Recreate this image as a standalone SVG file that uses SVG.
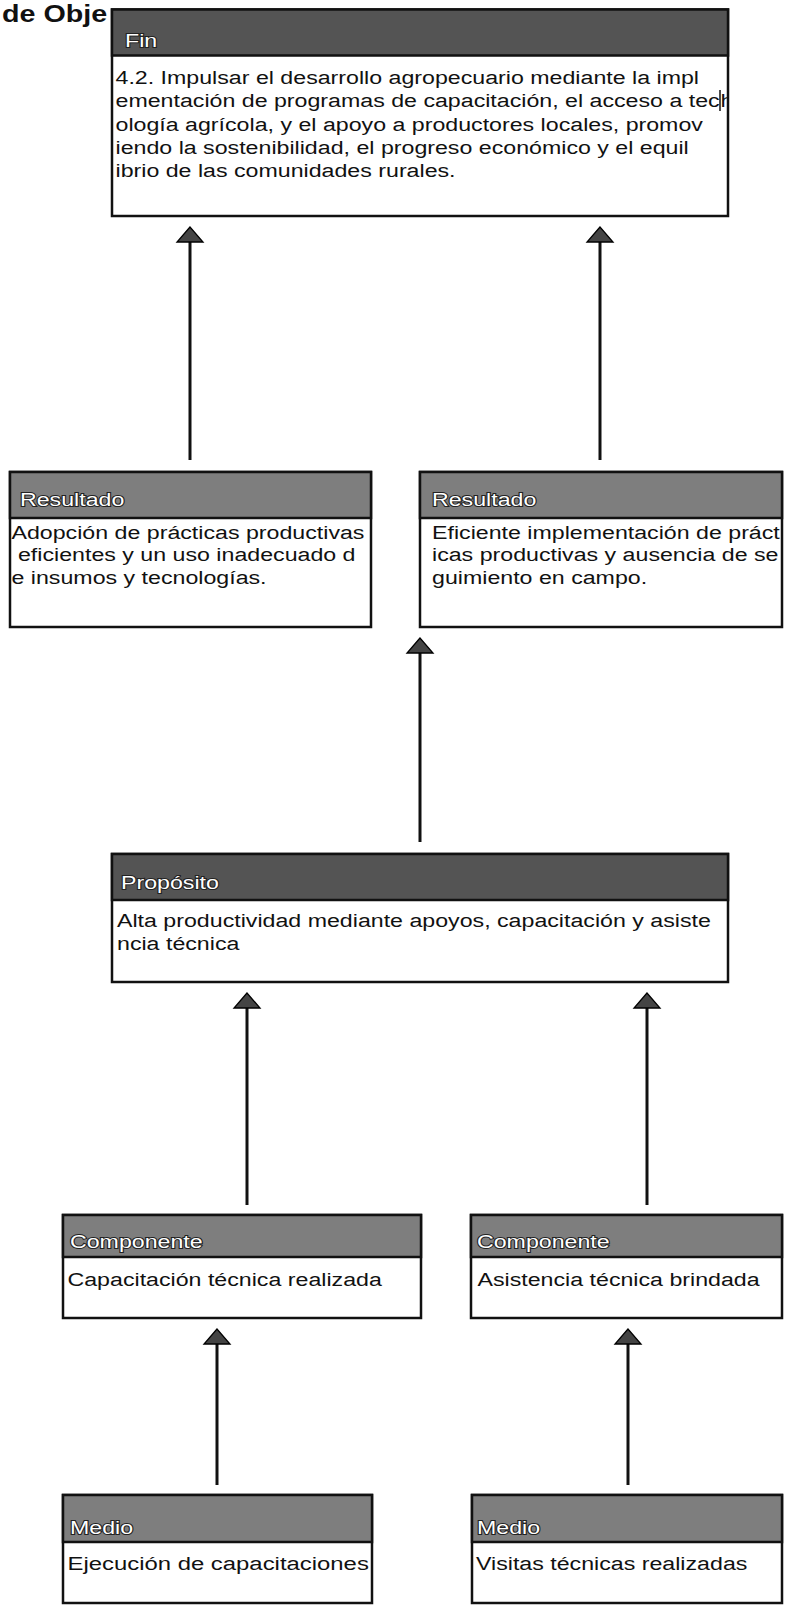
<svg xmlns="http://www.w3.org/2000/svg" width="785" height="1606" viewBox="0 0 785 1606">
<style>
text{font-family:"Liberation Sans",Arial,sans-serif;}
.title{font-size:23.5px;font-weight:bold;fill:#111;}
.box{fill:#fff;stroke:#111;stroke-width:2.5;}
.hd{stroke:#111;stroke-width:2.5;}
.hdk{fill:#545454;}
.hdm{fill:#7e7e7e;}
.lbl{font-size:19px;fill:#fff;stroke:#222;stroke-width:2;paint-order:stroke;}
.txt{font-size:19px;fill:#111;}
.con{fill:none;stroke:#111;stroke-width:3;}
.bar{stroke:#111;stroke-width:1.5;}
</style>
<defs>
<marker id="ah" markerUnits="userSpaceOnUse" markerWidth="16" markerHeight="28" viewBox="0 0 16 28" refX="7" refY="14" orient="auto" overflow="visible">
<path d="M15,14 L0,1 L0,27 Z" fill="#444" stroke="#000" stroke-width="1.3"/>
</marker>
<clipPath id="finclip"><rect x="112" y="56" width="615" height="158"/></clipPath>
</defs>

<text class="title" transform="translate(2,22) scale(1.22,1)">de Obje</text>

<g id="connectors">
<path class="con" d="M190,460 V235" marker-end="url(#ah)"/>
<path class="con" d="M600,460 V235" marker-end="url(#ah)"/>
<path class="con" d="M420,842 V646" marker-end="url(#ah)"/>
<path class="con" d="M247,1205 V1001" marker-end="url(#ah)"/>
<path class="con" d="M647,1205 V1001" marker-end="url(#ah)"/>
<path class="con" d="M217,1485 V1337" marker-end="url(#ah)"/>
<path class="con" d="M628,1485 V1337" marker-end="url(#ah)"/>
</g>

<g id="fin">
<rect class="box" x="112" y="9.5" width="616" height="206.5"/>
<rect class="hd hdk" x="112" y="9.5" width="616" height="46"/>
<text class="lbl" transform="translate(125,47) scale(1.22,1)">Fin</text>
<g clip-path="url(#finclip)">
<text class="txt" transform="translate(115.5,84) scale(1.22,1)">
<tspan x="0" y="0">4.2. Impulsar el desarrollo agropecuario mediante la impl</tspan>
<tspan x="0" y="23.3">ementación de programas de capacitación, el acceso a tec</tspan><tspan x="496" y="23.3">h</tspan>
<tspan x="0" y="46.6">ología agrícola, y el apoyo a productores locales, promov</tspan>
<tspan x="0" y="69.9">iendo la sostenibilidad, el progreso económico y el equil</tspan>
<tspan x="0" y="93.2">ibrio de las comunidades rurales.</tspan>
</text>
</g>
<line class="bar" x1="720" y1="90" x2="720" y2="111"/>
</g>

<g id="resultado1">
<rect class="box" x="10" y="472" width="361" height="155"/>
<rect class="hd hdm" x="10" y="472" width="361" height="46"/>
<text class="lbl" transform="translate(20,506) scale(1.22,1)">Resultado</text>
<text class="txt" transform="translate(11.5,539) scale(1.22,1)">
<tspan x="0" y="0">Adopción de prácticas productivas</tspan>
<tspan x="5.3" y="22.5">eficientes y un uso inadecuado d</tspan>
<tspan x="0" y="45">e insumos y tecnologías.</tspan>
</text>
</g>

<g id="resultado2">
<rect class="box" x="420" y="472" width="362" height="155"/>
<rect class="hd hdm" x="420" y="472" width="362" height="46"/>
<text class="lbl" transform="translate(432,506) scale(1.22,1)">Resultado</text>
<text class="txt" transform="translate(432,539) scale(1.22,1)">
<tspan x="0" y="0">Eficiente implementación de práct</tspan>
<tspan x="0" y="22.5">icas productivas y ausencia de se</tspan>
<tspan x="0" y="45">guimiento en campo.</tspan>
</text>
</g>

<g id="proposito">
<rect class="box" x="112" y="854" width="616" height="128"/>
<rect class="hd hdk" x="112" y="854" width="616" height="46"/>
<text class="lbl" transform="translate(121,889) scale(1.22,1)">Propósito</text>
<text class="txt" transform="translate(117,927) scale(1.22,1)">
<tspan x="0" y="0">Alta productividad mediante apoyos, capacitación y asiste</tspan>
<tspan x="0" y="23.3">ncia técnica</tspan>
</text>
</g>

<g id="componente1">
<rect class="box" x="63" y="1215" width="358" height="103"/>
<rect class="hd hdm" x="63" y="1215" width="358" height="42"/>
<text class="lbl" transform="translate(70,1248) scale(1.22,1)">Componente</text>
<text class="txt" transform="translate(67.5,1286) scale(1.22,1)">Capacitación técnica realizada</text>
</g>

<g id="componente2">
<rect class="box" x="471" y="1215" width="311" height="103"/>
<rect class="hd hdm" x="471" y="1215" width="311" height="42"/>
<text class="lbl" transform="translate(477,1248) scale(1.22,1)">Componente</text>
<text class="txt" transform="translate(477.5,1286) scale(1.22,1)">Asistencia técnica brindada</text>
</g>

<g id="medio1">
<rect class="box" x="63" y="1495" width="309" height="108"/>
<rect class="hd hdm" x="63" y="1495" width="309" height="47"/>
<text class="lbl" transform="translate(70,1534) scale(1.22,1)">Medio</text>
<text class="txt" transform="translate(67.5,1570) scale(1.22,1)" textLength="247" lengthAdjust="spacingAndGlyphs">Ejecución de capacitaciones</text>
</g>

<g id="medio2">
<rect class="box" x="472" y="1495" width="310" height="108"/>
<rect class="hd hdm" x="472" y="1495" width="310" height="47"/>
<text class="lbl" transform="translate(477,1534) scale(1.22,1)">Medio</text>
<text class="txt" transform="translate(476,1570) scale(1.22,1)">Visitas técnicas realizadas</text>
</g>
</svg>
